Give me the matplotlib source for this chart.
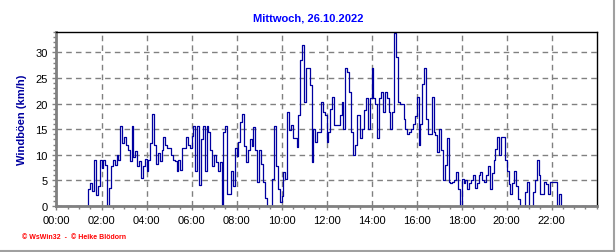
import numpy as np
import matplotlib.pyplot as plt
from matplotlib.ticker import MultipleLocator
from matplotlib.lines import Line2D

# Windböen in km/h, 5-Minuten-Werte, eine Zeile pro Stunde
h00 = [0, 0, 0, 0, 0, 0, 0, 0, 0, 0, 0, 0]
h01 = [0, 0, 0, 0, 0, 3.3, 4.4, 3, 9, 2.2, 4, 9]
h02 = [7.5, 9, 8, 0, 3.5, 7.8, 9, 8, 10, 9, 15.7, 12.4]
h03 = [13.4, 12, 11, 8.8, 15.7, 9.5, 10.8, 7.8, 8.8, 5.5, 7.8, 9.1]
h04 = [6.8, 9, 12.4, 18, 12, 8.2, 10.4, 8.8, 11, 13.4, 12, 11.4]
h05 = [11.4, 10, 9, 8.8, 6.8, 9, 7, 11.4, 11.4, 13.4, 12, 11.4]
h06 = [13.7, 15.7, 6.8, 15.7, 4.2, 13, 15.7, 6.8, 15.7, 14.4, 11, 7.8]
h07 = [10, 8.5, 6.8, 8.5, 0, 14.4, 15.7, 2.3, 2.3, 6.8, 3.9, 11.4]
h08 = [9.8, 12.5, 16.4, 18, 11.8, 8.5, 11, 13, 11.8, 15.4, 11, 4.6]
h09 = [11, 8.2, 4.6, 1.6, 0, 0, 0, 5.2, 15.7, 7.9, 3.3, 0.7]
h10 = [2, 6.6, 5.3, 18.4, 14.8, 15.8, 13.2, 13.2, 11.5, 17.7, 28.5, 31.4]
h11 = [20.4, 27, 27, 23.6, 8.6, 15.1, 12.5, 14.5, 14.5, 20.4, 18.4, 17.7]
h12 = [12.5, 14.5, 19, 21.3, 15.8, 15.8, 15.8, 17.7, 20.4, 15.1, 26.9, 26.2]
h13 = [22.3, 14.5, 9.9, 11.9, 17.7, 17.7, 13.2, 15.1, 18.7, 21, 15.1, 21]
h14 = [27, 21, 20, 13.2, 21, 22.3, 18.4, 22.3, 21, 18.4, 15.1, 18.4]
h15 = [33.7, 29.2, 20.4, 20, 20, 17, 15.1, 14, 14.5, 15, 16, 17.5]
h16 = [21.3, 11.9, 16.1, 23.9, 26.9, 17, 14, 14, 21.3, 14.5, 13.8, 10.6]
h17 = [15.1, 11, 5, 8, 13.2, 4.7, 4.4, 4.7, 5, 6.7, 3.4, 0]
h18 = [5.2, 4.5, 5, 3.4, 4.5, 5, 6, 3.5, 4.5, 6, 6.7, 5]
h19 = [4.6, 6, 7.9, 3.3, 6.5, 8.9, 11.2, 13.4, 10, 13.4, 13.4, 8.9]
h20 = [6.9, 4.3, 2.3, 4.5, 6.9, 4, 1.4, 0, 0, 0, 2.7, 4.6]
h21 = [0, 0, 2.7, 5, 8.9, 6, 2.3, 2.3, 4.6, 4.3, 2.3, 4.6]
h22 = [4.6, 4.6, 4.6, 0, 2.3, 0, 0, 0, 0, 0, 0, 0]
h23 = [0, 0, 0, 0, 0, 0, 0, 0, 0, 0, 0, 0]

boeen = np.array(h00 + h01 + h02 + h03 + h04 + h05 + h06 + h07 + h08 + h09 + h10 + h11
                 + h12 + h13 + h14 + h15 + h16 + h17 + h18 + h19 + h20 + h21 + h22 + h23)
stunden = np.arange(len(boeen)) * 5 / 60.0

xlabels = ["00:00", "02:00", "04:00", "06:00", "08:00", "10:00",
           "12:00", "14:00", "16:00", "18:00", "20:00", "22:00"]

plt.rcParams['font.family'] = ['Liberation Sans', 'DejaVu Sans']

fig = plt.figure(figsize=(6.16, 2.53), dpi=100)
ax = fig.add_axes([0.0917, 0.1818, 0.877, 0.688])

ax.plot(stunden, boeen, color='#0000a0', lw=0.9, drawstyle='steps-post')

ax.set_xlim(0, 24)
ax.set_ylim(0, 34)
ax.set_xticks(np.arange(0, 24, 2))
ax.set_xticklabels(xlabels)
ax.xaxis.set_minor_locator(MultipleLocator(0.5))
ax.set_yticks(np.arange(0, 31, 5))
ax.yaxis.set_minor_locator(MultipleLocator(1))
ax.tick_params(labelsize=8, colors='black', length=3, width=1)
ax.tick_params(which='minor', length=2, width=1, color='#808080')
ax.tick_params(which='major', color='#808080')

ax.grid(True, which='major', color='#808080', linestyle=(0, (4, 3)), lw=1)

for s in ['left', 'bottom']:
    ax.spines[s].set_color('#808080')
    ax.spines[s].set_linewidth(2)
for s in ['top', 'right']:
    ax.spines[s].set_color('black')
    ax.spines[s].set_linewidth(1)

ax.set_ylabel("Windböen (km/h)", color='#0000a0', fontsize=8, fontweight='bold')
ax.yaxis.set_label_coords(-0.055, 0.5)
fig.text(0.5, 0.925, "Mittwoch, 26.10.2022", color='#0000ff', fontsize=8,
         fontweight='bold', ha='center', va='center')
fig.text(0.036, 0.06, "© WsWin32  -  © Heike Blödorn", color='red', fontsize=5,
         fontweight='bold', ha='left', va='center')

# grauer Rand rechts und unten
fig.add_artist(Line2D([0, 0.997], [0.004, 0.004], color='#a0a0a0', lw=1.5,
                      transform=fig.transFigure))
fig.add_artist(Line2D([0.997, 0.997], [0.004, 1], color='#a0a0a0', lw=1.5,
                      transform=fig.transFigure))

fig.savefig("out.png", dpi=100)
